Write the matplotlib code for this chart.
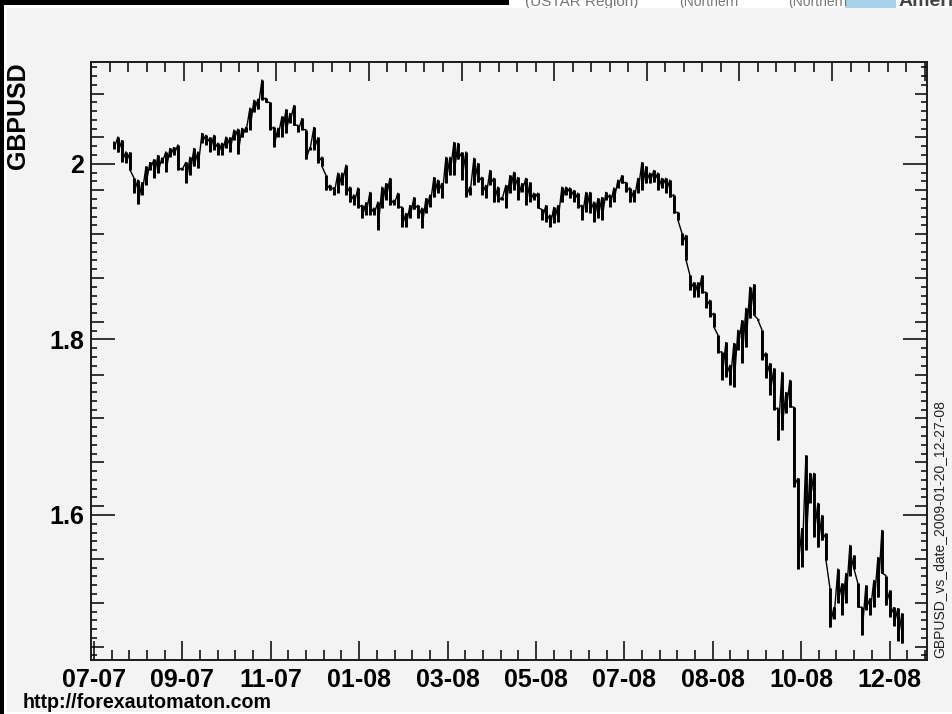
import numpy as np
import matplotlib
matplotlib.use('Agg')
import matplotlib.pyplot as plt
from matplotlib.patches import Rectangle

W, H = 952, 714

# high / low of the rate per sample
highs = [
    2.025, 2.031, 2.027, 2.014, 2.013, 1.984, 1.982, 1.979, 1.997, 2.002,
    2.005, 2.010, 2.007, 2.014, 2.018, 2.019, 2.022, 1.995, 2.002, 2.008,
    2.018, 2.014, 2.035, 2.033, 2.030, 2.033, 2.024, 2.024,
    2.031, 2.030, 2.039, 2.040, 2.041, 2.042, 2.064, 2.073, 2.074, 2.096,
    2.075, 2.070, 2.042, 2.041, 2.054, 2.062, 2.058, 2.067, 2.044, 2.052,
    2.039, 2.019, 2.042, 2.030, 2.008, 1.987, 1.976, 1.973, 1.990, 1.990, 1.999,
    1.974, 1.965, 1.973, 1.953, 1.956, 1.968, 1.950, 1.957, 1.974, 1.978,
    1.984, 1.959, 1.967, 1.951, 1.944, 1.953, 1.962, 1.953, 1.950, 1.961,
    1.965, 1.985, 1.982, 1.978, 2.008, 2.008, 2.025, 2.024, 2.013, 2.014,
    1.974, 2.007, 2.001, 1.985, 1.976, 1.993, 1.984, 1.974, 1.962, 1.976,
    1.987, 1.991, 1.985, 1.978, 1.984, 1.979, 1.967, 1.967, 1.948, 1.953,
    1.942, 1.951, 1.953, 1.974, 1.974, 1.973, 1.970, 1.967, 1.953, 1.968,
    1.968, 1.957, 1.961, 1.962, 1.968, 1.965, 1.973, 1.982, 1.987, 1.979,
    1.973, 1.970, 1.984, 2.002, 1.997, 1.990, 1.993, 1.990, 1.984, 1.984,
    1.982, 1.965, 1.945, 1.921, 1.919, 1.873, 1.865, 1.865, 1.873, 1.854,
    1.845, 1.830, 1.805, 1.786, 1.797, 1.771, 1.796, 1.811, 1.822, 1.836,
    1.860, 1.863, 1.823, 1.811, 1.785, 1.773, 1.767, 1.722, 1.763, 1.740,
    1.754, 1.723, 1.642, 1.585, 1.668, 1.648, 1.648, 1.614, 1.600, 1.579,
    1.517, 1.495, 1.539, 1.522, 1.534, 1.566, 1.554, 1.522, 1.495, 1.520,
    1.505, 1.526, 1.552, 1.583, 1.531, 1.514, 1.495, 1.494, 1.488,
]
lows = [
    2.017, 2.013, 2.002, 2.001, 1.993, 1.967, 1.954, 1.965, 1.976, 1.993,
    1.984, 1.990, 2.001, 1.991, 2.008, 2.010, 1.993, 1.993, 1.978, 1.987,
    1.997, 1.995, 2.024, 2.022, 2.014, 2.016, 2.010, 2.010,
    2.018, 2.014, 2.027, 2.011, 2.030, 2.036, 2.039, 2.059, 2.062, 2.073,
    2.070, 2.039, 2.019, 2.031, 2.031, 2.035, 2.047, 2.044, 2.036, 2.039,
    2.005, 2.016, 2.016, 2.001, 1.997, 1.970, 1.970, 1.965, 1.967, 1.976, 1.965,
    1.956, 1.953, 1.950, 1.938, 1.942, 1.942, 1.942, 1.925, 1.950, 1.959,
    1.953, 1.953, 1.950, 1.928, 1.928, 1.938, 1.948, 1.938, 1.927, 1.944,
    1.951, 1.962, 1.967, 1.961, 1.978, 1.987, 1.987, 2.005, 1.982, 1.962,
    1.965, 1.976, 1.979, 1.965, 1.961, 1.976, 1.956, 1.957, 1.959, 1.950,
    1.967, 1.970, 1.959, 1.968, 1.953, 1.957, 1.959, 1.950, 1.936, 1.934,
    1.928, 1.933, 1.934, 1.956, 1.965, 1.961, 1.957, 1.950, 1.936, 1.945,
    1.944, 1.934, 1.938, 1.936, 1.959, 1.951, 1.957, 1.973, 1.978, 1.968,
    1.956, 1.957, 1.967, 1.970, 1.978, 1.978, 1.979, 1.970, 1.973, 1.967,
    1.962, 1.944, 1.936, 1.908, 1.891, 1.856, 1.848, 1.848, 1.853, 1.836,
    1.826, 1.814, 1.785, 1.754, 1.757, 1.748, 1.746, 1.788, 1.773, 1.791,
    1.824, 1.828, 1.822, 1.777, 1.756, 1.737, 1.720, 1.685, 1.697, 1.716,
    1.723, 1.632, 1.539, 1.541, 1.560, 1.614, 1.575, 1.563, 1.571, 1.549,
    1.472, 1.482, 1.500, 1.486, 1.500, 1.531, 1.539, 1.495, 1.463, 1.492,
    1.486, 1.495, 1.506, 1.534, 1.497, 1.484, 1.474, 1.457, 1.454,
]
date_labels = ['07-07', '09-07', '11-07', '01-08', '03-08',
               '05-08', '07-08', '08-08', '10-08', '12-08']
y_major = [1.6, 1.8, 2.0]
y_labels = ['1.6', '1.8', '2']

plt.rcParams['font.family'] = ['Liberation Sans', 'DejaVu Sans']

fig = plt.figure(figsize=(W / 100, H / 100), dpi=100, facecolor='white')


def px_rect(x0, y0, x1, y1, color, z):
    fig.add_artist(Rectangle((x0 / W, 1 - y1 / H), (x1 - x0) / W, (y1 - y0) / H,
                             transform=fig.transFigure, facecolor=color,
                             edgecolor='none', zorder=z))


# leftovers of the page around the screenshot
px_rect(0, 0, 509, 5, 'black', 2)
px_rect(0, 0, 4, H, 'black', 2)
px_rect(845, 0, 896, 8, '#a9d2ea', 0.5)
for txt, xp, col, wt, fs in [('(USTAR Region)', 525, '#777777', 'normal', 11),
                             ('(Northern', 679, '#777777', 'normal', 10),
                             ('(Northern', 788, '#777777', 'normal', 10),
                             ('America', 899, '#444444', 'bold', 14)]:
    fig.text(xp / W, 1 - 6 / H, txt, fontsize=fs, color=col, fontweight=wt,
             va='baseline', zorder=1)
px_rect(7, 8, W, 712, '#f3f3f3', 1.5)

ax = fig.add_axes([91 / W, 1 - 660 / H, (926.7 - 91) / W, (660 - 62) / H], zorder=5)
ax.patch.set_visible(False)

n = len(highs)
x = np.arange(n)
zig_x = np.repeat(x, 2)
zig_y = np.column_stack([highs, lows]).ravel()
# thin trace between samples, heavy high-low bars on top
ax.plot(zig_x, zig_y, color='black', lw=1.0, solid_joinstyle='miter')
ax.vlines(x, lows, highs, color='black', lw=2.1)

ax.set_xlim(-5.75, 203.2)
ax.set_ylim(1.4348, 2.116)

# bottom axis
step = 22.1
majors = -5 + step * np.arange(len(date_labels))
ax.set_xticks(majors)
ax.set_xticklabels(date_labels)
ax.set_xticks(np.arange(-5, 203, step / 5), minor=True)
ax.tick_params(axis='x', which='major', direction='in', length=14, width=1.1,
               labelsize=18, pad=6, top=False)
ax.tick_params(axis='x', which='minor', direction='in', length=7.2, width=1.1, top=False)
for lab in ax.get_xticklabels():
    lab.set_fontweight('bold')

# top axis has its own spacing
top = ax.twiny()
top.set_xlim(ax.get_xlim())
top_step = 23.17
top.set_xticks(-5.83 + top_step * np.arange(10))
top.set_xticks(-5.83 + top_step / 5 * np.arange(46), minor=True)
top.tick_params(axis='x', which='major', direction='in', length=14, width=1.1,
                labeltop=False)
top.tick_params(axis='x', which='minor', direction='in', length=7.2, width=1.1)

# y axis with three tick lengths
ax.set_yticks(y_major)
ax.set_yticklabels(y_labels)
minor_y = np.arange(1.44, 2.115, 0.01)
ax.set_yticks(minor_y, minor=True)
ax.tick_params(axis='y', which='major', direction='in', length=17.5, width=1.1,
               labelsize=18, pad=5, left=True, right=True)
ax.tick_params(axis='y', which='minor', direction='in', length=4.5, width=1.1,
               left=True, right=True)
for lab in ax.get_yticklabels():
    lab.set_fontweight('bold')
for tick, loc in zip(ax.yaxis.get_minor_ticks(len(minor_y)), minor_y):
    if int(round(loc * 100)) % 5 == 0:
        tick.tick1line.set_markersize(9)
        tick.tick2line.set_markersize(9)

for a in (ax, top):
    for s in a.spines.values():
        s.set_linewidth(1.2)
        s.set_color('#1a1a1a')

fig.text(18 / W, 1 - 62 / H, 'GBPUSD', rotation=90, fontsize=18, fontweight='bold',
         ha='center', va='top', zorder=6)
fig.text(23 / W, 1 - 702 / H, 'http://forexautomaton.com', fontsize=14.15, fontweight='bold',
         ha='left', va='center', zorder=6)
fig.text(939 / W, 1 - 658 / H, 'GBPUSD_vs_date_2009-01-20_12-27-08', rotation=90,
         fontsize=10, color='#222222', ha='center', va='bottom', zorder=6)

fig.savefig('out.png', dpi=100)
